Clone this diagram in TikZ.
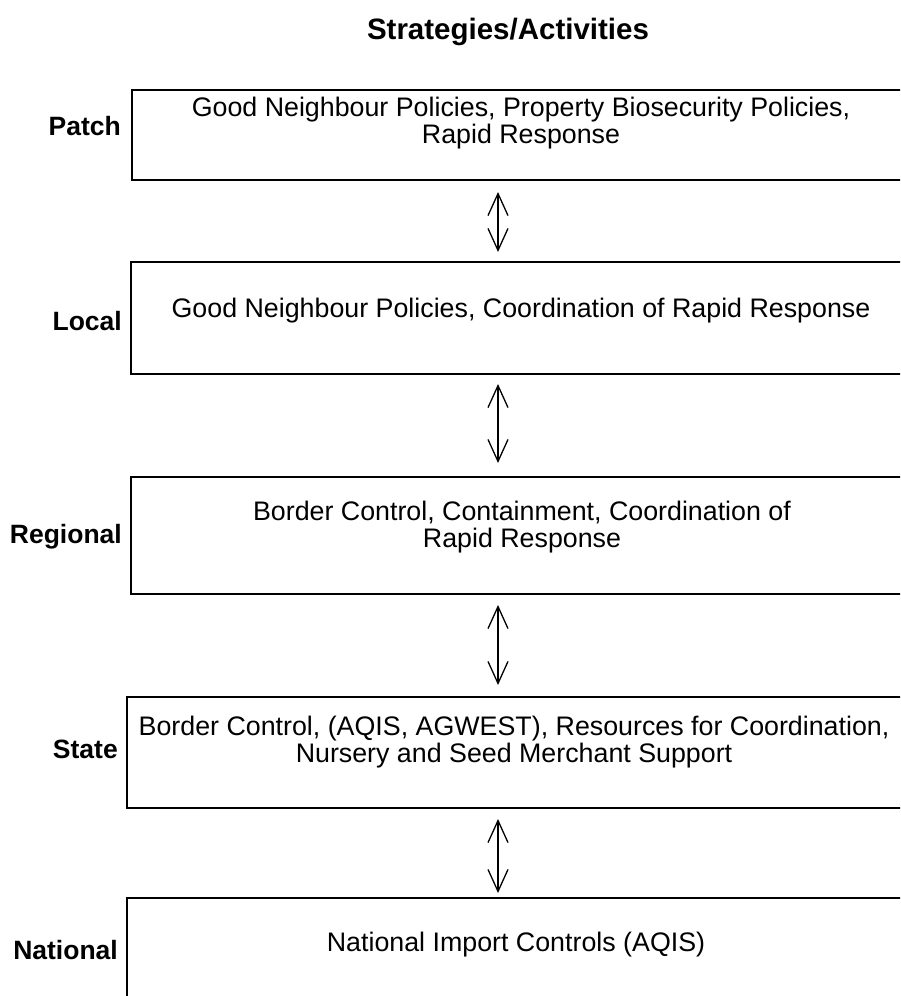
\documentclass[tikz,border=0pt]{standalone}
\usepackage{fontspec}
\setmainfont{Liberation Sans}
\usetikzlibrary{arrows.meta}
\begin{document}
\begin{tikzpicture}[x=1pt,y=-1pt,
  box/.style={draw=black,line width=1.8pt,outer sep=0pt,inner sep=0pt,anchor=north west},
  lbl/.style={anchor=east,font=\fontsize{26.5}{28}\selectfont\bfseries,inner sep=0pt},
  txt/.style={align=center,font=\fontsize{26.8}{27.5}\selectfont,inner sep=0pt},
  ttl/.style={font=\fontsize{29.5}{30}\selectfont\bfseries,inner sep=0pt},
  link/.style={line width=1.3pt,{Straight Barb[length=22pt,width=20pt,line width=1.3pt]}-{Straight Barb[length=22pt,width=20pt,line width=1.3pt]}}]
\useasboundingbox (0,0) rectangle (900,996);
\clip (0,0) rectangle (900,996);
\coordinate (ax) at (498,0);
\node[ttl] (title) at (508,32) {Strategies/Activities};
% boxes
\node[box,minimum width=783pt,minimum height=90pt] (patch) at (132,90) {};
\node[box,minimum width=784pt,minimum height=112pt] (local) at (131,262) {};
\node[box,minimum width=784pt,minimum height=117pt] (regional) at (131,477) {};
\node[box,minimum width=788pt,minimum height=111pt] (state) at (127,697) {};
\node[box,minimum width=788pt,minimum height=130pt] (national) at (127,898) {};
% labels
\node[lbl] (lpatch) at (121,126) {Patch};
\node[lbl] (llocal) at (122,321) {Local};
\node[lbl] (lregional) at (122,537) {Regional};
\node[lbl] (lstate) at (118,749) {State};
\node[lbl] (lnational) at (118,950) {National};
% texts
\node[txt] (tpatch) at (521,123) {Good Neighbour Policies, Property Biosecurity Policies,\\Rapid Response};
\node[txt] (tlocal) at (521,311) {Good Neighbour Policies, Coordination of Rapid Response};
\node[txt] (tregional) at (522,527) {Border Control, Containment, Coordination of\\Rapid Response};
\node[txt] (tstate) at (514,742) {Border Control, (AQIS, AGWEST), Resources for Coordination,\\Nursery and Seed Merchant Support};
\node[txt] (tnational) at (516,945) {National Import Controls (AQIS)};
% arrows
\draw[link,shorten <=12pt,shorten >=10pt] (patch.south -| ax) -- (local.north -| ax);
\draw[link,shorten <=10pt,shorten >=14pt] (local.south -| ax) -- (regional.north -| ax);
\draw[link,shorten <=11pt,shorten >=12pt] (regional.south -| ax) -- (state.north -| ax);
\draw[link,shorten <=11pt,shorten >=5pt] (state.south -| ax) -- (national.north -| ax);
\end{tikzpicture}
\end{document}
